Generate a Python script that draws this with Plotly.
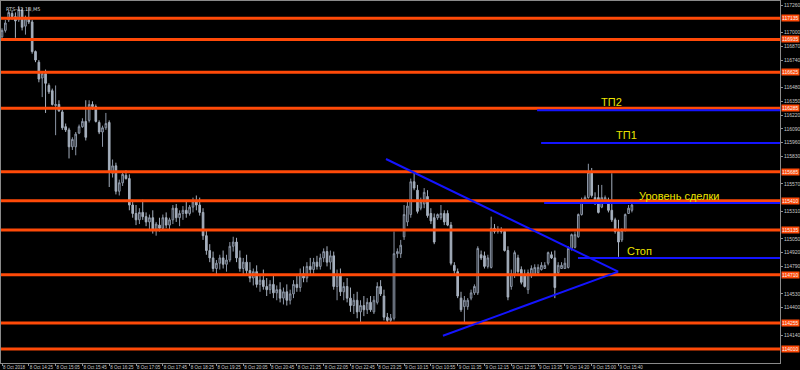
import plotly.graph_objects as go

# ---- data (RTS-12.18, M5) ----
opens = [116960,117020,117120,117180,117150,117120,117210,117060,117130,117100,
         116820,116720,116570,116610,116500,116450,116310,116320,116250,116110,
         116080,115920,115920,116050,116110,116160,116170,116320,116300,116150,
         116060,116100,116150,115670,115740,115500,115580,115650,115620,115370,
         115290,115230,115300,115260,115210,115250,115130,115180,115150,115250,
         115180,115230,115340,115250,115290,115320,115290,115350,115400,115370,
         115300,115080,114940,114870,114770,114820,114870,114810,114850,114980,
         115020,114870,114770,114830,114750,114680,114740,114620,114660,114600,
         114570,114620,114540,114570,114490,114550,114470,114530,114620,114590,
         114720,114680,114790,114760,114830,114790,114870,114930,114830,114890,
         114600,114700,114550,114600,114490,114420,114470,114360,114420,114380,
         114450,114360,114450,114600,114510,114310,114280,114300,114910,114910,
         115070,115210,115280,115590,115510,115340,115380,115450,115290,115250,
         115250,115250,115290,115290,115180,114800,114740,114490,114410,114410,
         114490,114540,114540,114900,114890,114790,114780,115150,115120,115130,
         115120,114940,114600,114710,114870,114760,114710,114570,114700,114710,
         114730,114760,114770,114820,114900,114870,114730,114770,114770,114780,
         114960,114970,115070,115280,115400,115440,115680,115440,115440,115350,
         115400,115400,115320,115230,115120,115040,115130,115290,115320]
highs = [117040,117120,117210,117210,117190,117250,117230,117160,117240,117120,
         116830,116740,116630,116650,116520,116470,116500,116360,116270,116140,
         116100,116010,116060,116130,116190,116360,116360,116350,116320,116170,
         116120,116240,116170,115800,115770,115610,115680,115700,115660,115420,
         115370,115340,115420,115300,115280,115320,115210,115250,115280,115300,
         115250,115370,115380,115320,115360,115400,115370,115440,115460,115440,
         115340,115130,115000,114930,114850,114900,114940,114900,115020,115070,
         115060,114940,114870,114900,114830,114770,114800,114700,114760,114680,
         114660,114700,114610,114640,114590,114620,114570,114660,114700,114770,
         114790,114830,114870,114870,114890,114910,114960,114980,114940,114930,
         114760,114770,114640,114680,114590,114530,114550,114470,114510,114490,
         114510,114510,114640,114660,114570,114350,114340,115120,114960,115040,
         115370,115420,115620,115690,115560,115440,115530,115510,115340,115290,
         115290,115370,115320,115320,115210,114830,114770,114550,114510,114490,
         114570,114620,114980,114940,114930,114900,115260,115190,115170,115160,
         115140,114980,114760,114940,114900,114790,114760,114760,114800,114810,
         114810,114830,114830,114930,114930,114940,114830,114830,114870,114980,
         115100,115120,115290,115440,115460,115760,115720,115490,115560,115560,
         115460,115440,115670,115250,115230,115150,115290,115370,115420]
lows = [116930,117000,117100,117120,116950,117100,117020,116980,117080,116800,
        116720,116530,116390,116240,116420,116310,116030,116250,116080,116060,
        115810,115890,115840,116040,116100,115980,116150,116270,116150,116040,
        115920,116080,115540,115630,115470,115460,115550,115610,115320,115250,
        115180,115190,115230,115170,115130,115100,115080,115120,115130,115150,
        115130,115190,115210,115170,115230,115250,115270,115300,115320,115270,
        115040,114900,114830,114740,114700,114760,114770,114740,114830,114930,
        114830,114740,114700,114710,114640,114610,114590,114550,114570,114510,
        114530,114490,114470,114450,114430,114420,114430,114490,114550,114550,
        114640,114640,114710,114720,114760,114760,114830,114790,114760,114570,
        114470,114510,114470,114450,114360,114340,114300,114260,114320,114340,
        114360,114340,114430,114510,114280,114260,114260,114280,114870,114870,
        115040,115170,115250,115510,115290,115320,115340,115250,115190,115000,
        115230,115230,115180,115170,114800,114720,114490,114360,114260,114380,
        114470,114520,114520,114850,114770,114770,114770,115100,115100,115100,
        114930,114470,114570,114680,114720,114620,114590,114530,114680,114700,
        114720,114750,114770,114800,114860,114490,114710,114770,114770,114770,
        114940,114960,115060,115270,115380,115430,115440,115370,115290,115340,
        115380,115300,115210,115100,114880,115020,115120,115290,115300]
closes = [117020,117090,117190,117150,117110,117220,117050,117130,117100,116820,
          116740,116560,116610,116520,116440,116320,116320,116260,116100,116080,
          115920,115990,116040,116110,116160,116010,116320,116300,116160,116060,
          116100,116140,115680,115740,115500,115580,115660,115620,115370,115290,
          115230,115300,115260,115210,115250,115130,115190,115150,115250,115180,
          115230,115340,115250,115290,115320,115290,115350,115400,115370,115300,
          115080,114940,114870,114770,114820,114870,114810,114850,114980,115020,
          114870,114770,114830,114750,114680,114740,114620,114660,114600,114570,
          114620,114540,114570,114490,114550,114470,114530,114620,114590,114720,
          114680,114790,114760,114830,114790,114870,114930,114830,114890,114600,
          114700,114550,114600,114490,114420,114470,114360,114420,114380,114450,
          114380,114470,114600,114530,114310,114280,114300,114910,114930,114990,
          115280,115360,115590,115530,115310,115400,115490,115270,115220,115020,
          115280,115290,115210,115180,114820,114750,114510,114380,114470,114470,
          114540,114600,114960,114870,114790,114870,115150,115120,115140,115120,
          114940,114500,114720,114920,114740,114640,114600,114730,114770,114780,
          114780,114800,114800,114920,114870,114590,114800,114800,114820,114960,
          115090,115090,115280,115420,115440,115680,115460,115390,115300,115440,
          115440,115320,115230,115120,115020,115130,115280,115340,115370]

tick_idx = [0, 8, 16, 24, 32, 40, 48, 56, 64, 72, 80, 88, 96, 104, 112,
            120, 128, 136, 144, 152, 160, 168, 176, 184]
tick_txt = ["8 Oct 2018", "8 Oct 14:25", "8 Oct 15:05", "8 Oct 15:45", "8 Oct 16:25",
            "8 Oct 17:05", "8 Oct 17:45", "8 Oct 18:25", "8 Oct 19:25", "8 Oct 20:05",
            "8 Oct 20:45", "8 Oct 21:25", "8 Oct 22:05", "8 Oct 22:45", "8 Oct 23:25",
            "9 Oct 10:15", "9 Oct 10:55", "9 Oct 11:35", "9 Oct 12:15", "9 Oct 12:55",
            "9 Oct 13:35", "9 Oct 14:20", "9 Oct 15:00", "9 Oct 15:40"]
price_ticks = [114010, 114140, 114270, 114400, 114530, 114660, 114790, 114920, 115050,
               115180, 115310, 115440, 115570, 115700, 115830, 115960, 116090, 116220,
               116350, 116480, 116610, 116740, 116870, 117000, 117130, 117260]

# horizontal support / resistance levels (orange)
orange_levels = [117135, 116935, 116625, 116285, 115685, 115410, 115135, 114710, 114255, 114010]

# trade levels (blue): name, price, start bar, label bar, label price
blue_names = ["ТП2", "ТП1", "Уровень сделки", "Стоп"]
blue_prices = [116265, 115955, 115390, 114870]
blue_start = [159.7, 160.9, 161.8, 171.9]
label_bar = [178.2, 182.7, 189.6, 186.0]
label_price = [116345, 116030, 115455, 114935]

# triangle (blue trend lines): start bars/prices and apex
tri_upper = (114.6, 115805)
tri_lower = (131.6, 114135)
tri_apex = (183.9, 114740)

X_MIN, X_MAX = -0.3, 232.2
Y_MIN, Y_MAX = 113877, 117298

bars = list(range(len(opens)))

# price ticks hidden behind the orange level labels on the axis
shown_ticks = [t for t in price_ticks if min(abs(t - lv) for lv in orange_levels) > 50]

fig = go.Figure()
fig.add_trace(go.Candlestick(
    x=bars, open=opens, high=highs, low=lows, close=closes,
    increasing=dict(line=dict(color="#8c96a6", width=1), fillcolor="#1a1e24"),
    decreasing=dict(line=dict(color="#a6b0be", width=1), fillcolor="#a6b0be"),
    whiskerwidth=0, showlegend=False, hoverinfo="skip"))

shapes = []
for lv in orange_levels:
    shapes.append(dict(type="line", xref="x", yref="y", x0=X_MIN, x1=X_MAX, y0=lv, y1=lv,
                       line=dict(color="#ff4a08", width=3), layer="above"))
for p, s in zip(blue_prices, blue_start):
    shapes.append(dict(type="line", xref="x", yref="y", x0=s, x1=X_MAX, y0=p, y1=p,
                       line=dict(color="#1414ff", width=2), layer="above"))
for a in (tri_upper, tri_lower):
    shapes.append(dict(type="line", xref="x", yref="y", x0=a[0], y0=a[1],
                       x1=tri_apex[0], y1=tri_apex[1],
                       line=dict(color="#1414ff", width=2), layer="above"))

annotations = []
for name, lb, lp in zip(blue_names, label_bar, label_price):
    annotations.append(dict(x=lb, y=lp, xref="x", yref="y", text=name, showarrow=False,
                            xanchor="left", yanchor="middle",
                            font=dict(family="Liberation Sans, Arial", size=11, color="#ece400")))
for lv in orange_levels:
    annotations.append(dict(x=1.0, y=lv, xref="paper", yref="y", text=str(lv),
                            showarrow=False, xanchor="left", yanchor="middle",
                            xshift=1, bgcolor="#ff4a08", borderpad=0,
                            font=dict(family="Liberation Sans", size=5, color="#f4f4f4")))
annotations.append(dict(x=0, y=1, xref="paper", yref="paper", text="RTS-12.18,M5",
                        showarrow=False, xanchor="left", yanchor="top", xshift=3, yshift=-3,
                        font=dict(family="DejaVu Sans", size=5, color="#d0d0d0")))

fig.update_layout(
    width=800, height=370,
    margin=dict(l=1, r=20, t=1, b=7, autoexpand=False),
    paper_bgcolor="#000000", plot_bgcolor="#000000",
    shapes=shapes, annotations=annotations, showlegend=False,
    xaxis=dict(range=[X_MIN, X_MAX], rangeslider=dict(visible=False),
               tickvals=tick_idx, ticktext=tick_txt, ticks="outside", ticklen=2,
               tickangle=0, automargin=False,
               tickcolor="#909090", ticklabelposition="outside right",
               tickfont=dict(family="Liberation Sans", size=4.5, color="#c8c8c8"),
               showgrid=False, zeroline=False, showline=True, linecolor="#8a8a8a",
               linewidth=1, mirror=True),
    yaxis=dict(range=[Y_MIN, Y_MAX], side="right", tickvals=shown_ticks,
               ticktext=[str(v) for v in shown_ticks], ticks="outside", ticklen=2,
               tickcolor="#909090", automargin=False,
               tickfont=dict(family="Liberation Sans", size=5, color="#c8c8c8"),
               showgrid=False, zeroline=False, showline=True, linecolor="#8a8a8a",
               linewidth=1, mirror=True),
)

fig.write_html("out.html")
